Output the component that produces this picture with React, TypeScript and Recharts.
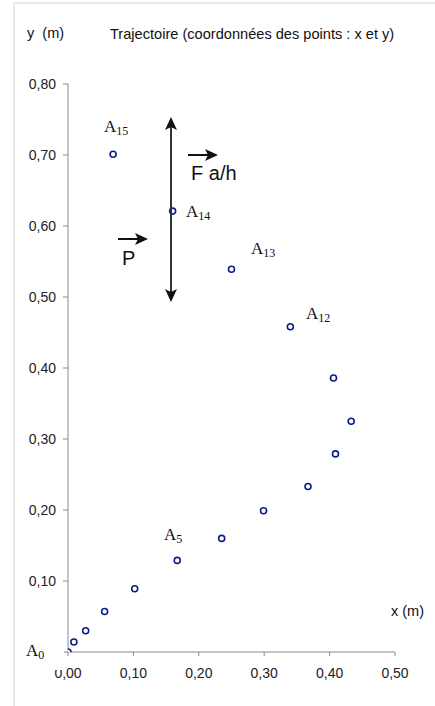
import React from 'react';
import { ScatterChart, Scatter, XAxis, YAxis } from 'recharts';

const pointNames = ['A0','A1','A2','A3','A4','A5','A6','A7','A8','A9','A10','A11','A12','A13','A14','A15'];
const xValues = [0, 0.009, 0.027, 0.056, 0.102, 0.167, 0.235, 0.299, 0.367, 0.409, 0.433, 0.406, 0.340, 0.250, 0.160, 0.069];
const yValues = [0, 0.014, 0.030, 0.057, 0.089, 0.129, 0.160, 0.199, 0.233, 0.279, 0.325, 0.386, 0.458, 0.539, 0.621, 0.701];
const xTicks = [0, 0.1, 0.2, 0.3, 0.4, 0.5];
const yTicks = [0, 0.1, 0.2, 0.3, 0.4, 0.5, 0.6, 0.7, 0.8];

const data = pointNames.map((name, i) => ({ name, x: xValues[i], y: yValues[i] }));
const fmt = (v: number) => v.toFixed(2).replace('.', ',');
const fmtY = (v: number) => (v === 0 ? '' : fmt(v));

const SANS = '"Liberation Sans", Arial, sans-serif';
const SERIF = '"Liberation Serif", "Times New Roman", serif';
const AXIS = '#8a8a8a';

const Marker = (props: any) => (
  <circle cx={props.cx} cy={props.cy} r={3} fill="#fff" stroke="#0b1a8c" strokeWidth={1.6} />
);

const PLabel = ({ x, y, main, sub }: { x: number; y: number; main: string; sub: string }) => (
  <text x={x} y={y} fontFamily={SERIF} fontSize={17} fill="#111">
    {main}
    <tspan fontSize={12} dy={3}>{sub}</tspan>
  </text>
);

export default function App() {
  return (
    <div style={{ position: 'absolute', left: 0, top: 0, width: 435, height: 706, background: '#fff' }}>
      <ScatterChart width={435} height={706} margin={{ top: 84, right: 40, bottom: 24, left: 0 }}>
        <XAxis
          type="number"
          dataKey="x"
          domain={[0, 0.5]}
          ticks={xTicks}
          tickFormatter={fmt}
          height={30}
          stroke={AXIS}
          tickSize={4}
          tickMargin={12}
          tick={{ fill: '#222', fontSize: 14, fontFamily: SANS }}
          allowDataOverflow
        />
        <YAxis
          type="number"
          dataKey="y"
          domain={[0, 0.8]}
          ticks={yTicks}
          tickFormatter={fmtY}
          width={68}
          stroke={AXIS}
          tickSize={5}
          tickMargin={7}
          tick={{ fill: '#222', fontSize: 14, fontFamily: SANS }}
          allowDataOverflow
        />
        <Scatter data={data} shape={Marker} isAnimationActive={false} />
      </ScatterChart>
      <svg width={435} height={706} style={{ position: 'absolute', left: 0, top: 0, pointerEvents: 'none' }}>
        <rect x={15} y={630} width={49} height={40} fill="#fff" />
        <line x1={14} y1={3} x2={435} y2={3} stroke="#d4d4d4" strokeWidth={1} />
        <line x1={14} y1={3} x2={14} y2={706} stroke="#d4d4d4" strokeWidth={1} />
        <text x={110} y={39} fontFamily={SANS} fontSize={14.6} fill="#111">Trajectoire (coordonnées des points : x et y)</text>
        <text x={27} y={38} fontFamily={SANS} fontSize={14.5} fill="#111" xmlSpace="preserve">y  (m)</text>
        <text x={391} y={616} fontFamily={SANS} fontSize={14.5} fill="#111">x (m)</text>
        <PLabel x={104} y={132} main="A" sub="15" />
        <PLabel x={186} y={217} main="A" sub="14" />
        <PLabel x={251} y={254} main="A" sub="13" />
        <PLabel x={306} y={319} main="A" sub="12" />
        <PLabel x={164} y={540} main="A" sub="5" />
        <PLabel x={26} y={656} main="A" sub="0" />
        {/* vertical double arrow */}
        <line x1={171} y1={126} x2={171} y2={293} stroke="#333" strokeWidth={2} />
        <polygon points="171,117 177,130 171,127 165,130" fill="#111" />
        <polygon points="171,302 177,289 171,292 165,289" fill="#111" />
        {/* F a/h vector */}
        <line x1={188} y1={155} x2={210} y2={155} stroke="#111" strokeWidth={2} />
        <polygon points="218,155 205,149 208,155 205,161" fill="#111" />
        <text x={191} y={180} fontFamily={SANS} fontSize={20} fill="#111">F a/h</text>
        {/* P vector */}
        <line x1={118} y1={239} x2={140} y2={239} stroke="#111" strokeWidth={2} />
        <polygon points="148,239 135,233 138,239 135,245" fill="#111" />
        <text x={122} y={265} fontFamily={SANS} fontSize={20} fill="#111">P</text>
      </svg>
    </div>
  );
}
